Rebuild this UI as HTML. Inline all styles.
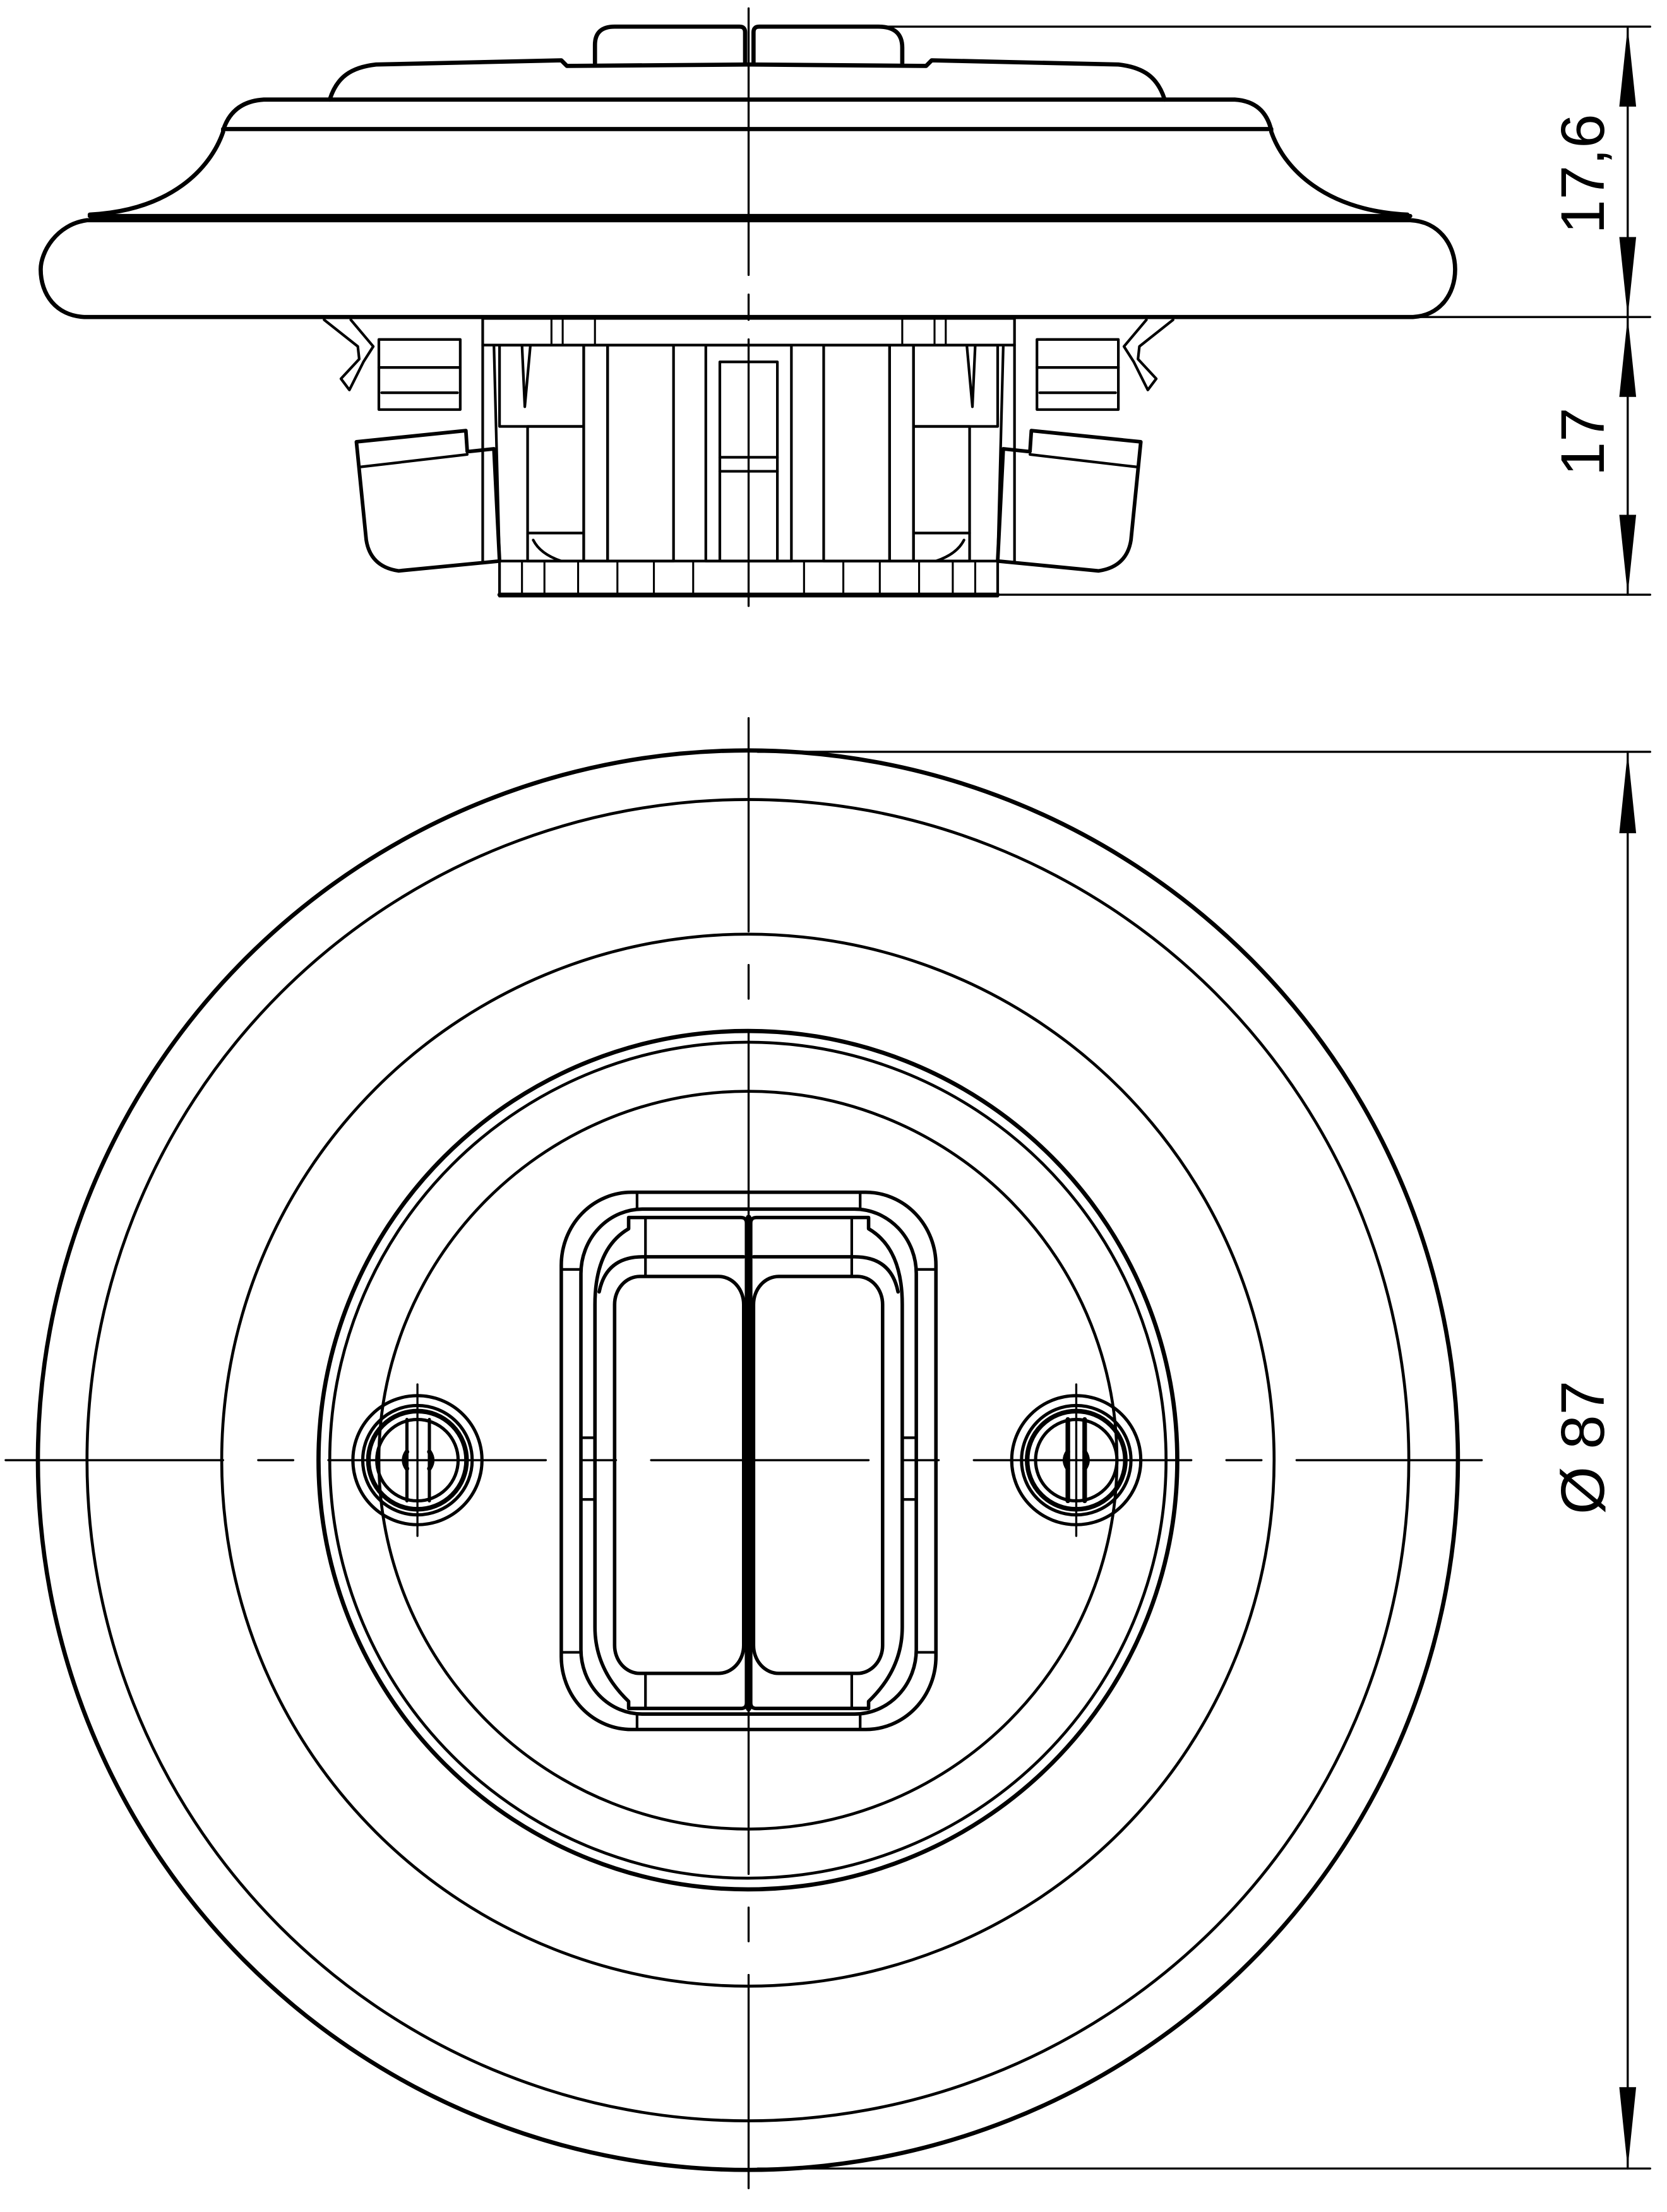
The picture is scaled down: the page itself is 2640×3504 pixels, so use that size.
<!DOCTYPE html>
<html><head><meta charset="utf-8"><style>
html,body{margin:0;padding:0;background:#fff}
svg{display:block}
</style></head><body>
<svg width="2640" height="3504" viewBox="0 0 1188 1577" preserveAspectRatio="none" xmlns="http://www.w3.org/2000/svg">
<rect width="1188" height="1577" fill="#fff"/>
<g fill="none" stroke="#000" stroke-linejoin="round" stroke-linecap="round">
<g stroke-width="3">
<path d="M424,45 L424,32 Q424,19 438,19 L527,19 Q531,19 531,23 L531,45"/>
<path d="M537,45 L537,23 Q537,19 541,19 L626,19 Q643,19 643,34 L643,45"/>
<path d="M235,71 C240,55 250,48 268,46 L400,43 L404,47 L534,46 L660,47 L664,43 L797,46 C815,48 825,55 830,71"/>
<path d="M159,93 C163,80 172,72 188,71 L880,71 C895,72 903,80 906,93"/>
<path d="M159,92 L906,92"/>
<path d="M159,94 C150,120 122,150 64,153"/>
<path d="M906,94 C915,120 944,150 1003,153"/>
<path d="M64,154 L1005,154"/>
<path d="M62,157 C40,160 29,180 29,192 C29,210 40,225 60,226 L1007,226 C1026,225 1037,210 1037,192 C1037,175 1026,158 1005,157 Z"/>
</g>
<g stroke-width="1.9">
<rect x="344" y="227" width="379" height="19"/>
<line x1="344" y1="246" x2="344" y2="400"/><line x1="723" y1="246" x2="723" y2="400"/>
<line x1="352" y1="246" x2="356" y2="400"/><line x1="715" y1="246" x2="711" y2="400"/>
<rect x="356" y="400" width="355" height="25"/>
<line x1="356" y1="424" x2="711" y2="424" stroke-width="3"/>
<g stroke-width="1.4">
<line x1="372" y1="400" x2="372" y2="424"/><line x1="388" y1="400" x2="388" y2="424"/><line x1="412" y1="400" x2="412" y2="424"/><line x1="440" y1="400" x2="440" y2="424"/><line x1="466" y1="400" x2="466" y2="424"/><line x1="494" y1="400" x2="494" y2="424"/>
<line x1="695" y1="400" x2="695" y2="424"/><line x1="679" y1="400" x2="679" y2="424"/><line x1="655" y1="400" x2="655" y2="424"/><line x1="627" y1="400" x2="627" y2="424"/><line x1="601" y1="400" x2="601" y2="424"/><line x1="573" y1="400" x2="573" y2="424"/>
<line x1="393" y1="227" x2="393" y2="246"/><line x1="401" y1="227" x2="401" y2="246"/><line x1="424" y1="227" x2="424" y2="246"/>
<line x1="674" y1="227" x2="674" y2="246"/><line x1="666" y1="227" x2="666" y2="246"/><line x1="643" y1="227" x2="643" y2="246"/>
</g>
<rect x="416" y="246" width="17" height="154"/><rect x="433" y="246" width="47" height="154"/>
<rect x="634" y="246" width="17" height="154"/><rect x="587" y="246" width="47" height="154"/>
<rect x="503" y="246" width="61" height="154"/><rect x="513" y="258" width="41" height="142"/>
<line x1="513" y1="326" x2="554" y2="326"/><line x1="513" y1="336" x2="554" y2="336"/>
<rect x="356" y="246" width="60" height="58"/><rect x="376" y="304" width="40" height="96"/>
<rect x="651" y="246" width="60" height="58"/><rect x="651" y="304" width="40" height="96"/>
<path d="M372,246 L374,290 L378,246"/><path d="M695,246 L693,290 L689,246"/>
<path d="M376,380 L416,380 M380,385 Q385,395 400,400"/><path d="M691,380 L651,380 M687,385 Q682,395 667,400"/>
<rect x="270" y="242" width="58" height="50"/><line x1="270" y1="262" x2="328" y2="262"/><line x1="272" y1="280" x2="326" y2="280"/>
<rect x="739" y="242" width="58" height="50"/><line x1="739" y1="262" x2="797" y2="262"/><line x1="741" y1="280" x2="795" y2="280"/>
<path d="M231,228 L255,247 L256,256 L243,270 L249,278 L259,258 L266,247 L250,228"/>
<path d="M836,228 L812,247 L811,256 L824,270 L818,278 L808,258 L801,247 L817,228"/>
<path d="M254,315 L332,307 L333,322 L352,320 L356,400 L284,407 Q264,404 261,385 Z" stroke-width="2.6"/>
<line x1="256" y1="333" x2="333" y2="324"/>
<path d="M813,315 L735,307 L734,322 L715,320 L711,400 L783,407 Q803,404 806,385 Z" stroke-width="2.6"/>
<line x1="811" y1="333" x2="734" y2="324"/>
</g>
<g stroke-width="1.5">
<line x1="628" y1="19" x2="1176" y2="19"/>
<line x1="1007" y1="226" x2="1176" y2="226"/>
<line x1="711" y1="424" x2="1176" y2="424"/>
<line x1="1160" y1="19" x2="1160" y2="424"/>
<line x1="533.5" y1="6" x2="533.5" y2="440" stroke-dasharray="190 14 18 14"/>
</g>
<g stroke-width="3">
<circle cx="533" cy="1041" r="506"/>
<circle cx="533" cy="1041" r="306"/>
</g>
<g stroke-width="2.1">
<circle cx="533" cy="1041" r="471"/>
<circle cx="533" cy="1041" r="375"/>
<circle cx="533" cy="1041" r="298"/>
<circle cx="533" cy="1041" r="263"/>
</g>
<g stroke-width="2.5">
<rect x="400" y="850" width="267" height="383" rx="50" ry="52"/>
<rect x="414" y="862" width="239" height="360" rx="44" ry="46"/>
<path d="M448,868 L528,868 Q532,868 532,872 L532,1214 Q532,1218 528,1218 L448,1218 L448,1213 Q424,1190 424,1160 L424,930 Q424,890 448,876 Z"/>
<path d="M539,868 L619,868 L619,876 Q643,890 643,930 L643,1160 Q643,1190 619,1213 L619,1218 L539,1218 Q535,1218 535,1214 L535,872 Q535,868 539,868 Z"/>
<rect x="438" y="910" width="92" height="283" rx="18" ry="20"/>
<rect x="537" y="910" width="92" height="283" rx="18" ry="20"/>
<path d="M427,921 Q432,896 458,896 L530,896"/><path d="M640,921 Q635,896 609,896 L537,896"/>
<line x1="533.5" y1="868" x2="533.5" y2="1218" stroke-width="4"/>
</g>
<g stroke-width="1.9">
<line x1="460" y1="868" x2="460" y2="910"/><line x1="607" y1="868" x2="607" y2="910"/>
<line x1="460" y1="1193" x2="460" y2="1218"/><line x1="607" y1="1193" x2="607" y2="1218"/>
<line x1="454" y1="850" x2="454" y2="862"/><line x1="613" y1="850" x2="613" y2="862"/>
<line x1="454" y1="1222" x2="454" y2="1233"/><line x1="613" y1="1222" x2="613" y2="1233"/>
<line x1="400" y1="905" x2="414" y2="905"/><line x1="653" y1="905" x2="667" y2="905"/>
<line x1="400" y1="1178" x2="414" y2="1178"/><line x1="653" y1="1178" x2="667" y2="1178"/>
<line x1="414" y1="1025" x2="424" y2="1025"/><line x1="414" y1="1069" x2="424" y2="1069"/>
<line x1="643" y1="1025" x2="653" y2="1025"/><line x1="643" y1="1069" x2="653" y2="1069"/>
</g>
<g stroke-width="2.3">
<circle cx="297.5" cy="1041" r="46"/><circle cx="297.5" cy="1041" r="39"/><circle cx="297.5" cy="1041" r="35" stroke-width="3.3"/><circle cx="297.5" cy="1041" r="29"/>
<path d="M290,1012 L290,1070 M306,1012 L306,1070"/><path d="M290,1035 Q286,1041 290,1047 M306,1035 Q310,1041 306,1047" stroke-width="3.3"/>
<circle cx="767" cy="1041" r="46"/><circle cx="767" cy="1041" r="39"/><circle cx="767" cy="1041" r="35" stroke-width="3.3"/><circle cx="767" cy="1041" r="29"/>
<path d="M761,1012 L761,1070 M773,1012 L773,1070" stroke-width="3.3"/><path d="M761,1035 Q757,1041 761,1047 M773,1035 Q777,1041 773,1047" stroke-width="3.3"/>
</g>
<g stroke-width="1.5">
<line x1="4" y1="1041" x2="1056" y2="1041" stroke-dasharray="155 25 25 25"/>
<line x1="533.5" y1="512" x2="533.5" y2="1577" stroke-dasharray="152 24 24 24"/>
<line x1="297.5" y1="987" x2="297.5" y2="1095"/><line x1="767" y1="987" x2="767" y2="1095"/>
<line x1="540" y1="536" x2="1176" y2="536"/>
<line x1="540" y1="1546" x2="1176" y2="1546"/>
<line x1="1160" y1="536" x2="1160" y2="1546"/>
</g>
</g>
<g fill="#000">
<polygon points="1160,19 1154,76 1166,76"/>
<polygon points="1160,226 1154,169 1166,169"/>
<polygon points="1160,226 1154,283 1166,283"/>
<polygon points="1160,424 1154,367 1166,367"/>
<polygon points="1160,536 1154,594 1166,594"/>
<polygon points="1160,1546 1154,1488 1166,1488"/>
</g>
<g font-family="Liberation Sans, sans-serif" font-size="44" fill="#000" text-anchor="middle">
<text transform="translate(1143,124) rotate(-90)">17,6</text>
<text transform="translate(1143,315) rotate(-90)">17</text>
<text transform="translate(1143,1032) rotate(-90)">Ø 87</text>
</g>
</svg>
</body></html>
